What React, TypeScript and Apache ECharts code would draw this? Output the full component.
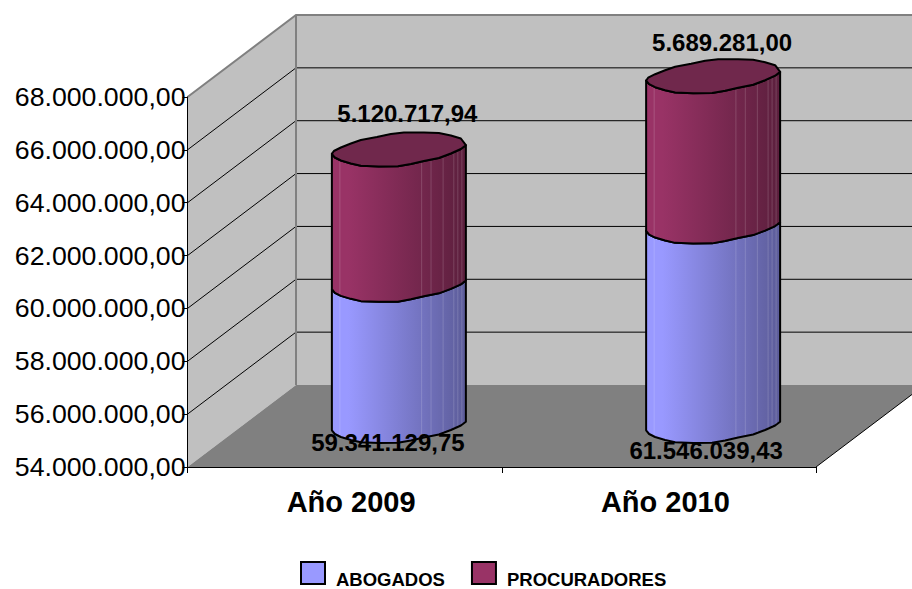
import React, { useEffect, useRef } from "react";
import * as echarts from "echarts";

const categories = ["Año 2009", "Año 2010"];
const abogados = [59341129.75, 61546039.43];
const procuradores = [5120717.94, 5689281.0];
const abogadosLabels = ["59.341.129,75", "61.546.039,43"];
const procuradoresLabels = ["5.120.717,94", "5.689.281,00"];
const yTicks = [56000000, 58000000, 60000000, 62000000, 64000000, 66000000, 68000000];
const yMin = 54000000;
const yMax = 68000000;
const yStep = 2000000;

const FONT = '"Liberation Sans", Arial, sans-serif';
const DEPTH_X = 108.5;
const DEPTH_Y = 82;
const SEAMS = [0.06, 0.67, 0.74, 0.83, 0.91, 0.94, 0.97];
const BOTTOM_LABEL_OFFSET = [[-11, 16], [-7, 24]];
const TOP_LABEL_OFFSET = [[8.5, -36], [9, -34]];
// Hand-read outline of the coarse rim polygon, left to right, relative to the cylinder's axis.
const RIM_FRONT = [[-67, 4.3], [-64, 8], [-58, 11], [-48, 14], [-38, 16.3], [-20, 17], [-1, 16.8], [12, 14.5], [25, 11.5], [40, 8.5], [52, 4], [62, -0.5], [67, -4.3]];
const RIM_BACK = [[-67, 4.3], [-65, 1.5], [-58, -2], [-48, -6], [-38, -9.5], [-22, -12.5], [-8, -15.5], [5, -17], [25, -17], [40, -16.5], [52, -14], [62, -11], [67, -4.3]];

const fmtAxis = (v: number) => {
  const s = String(Math.round(v));
  return s.replace(/\B(?=(\d{3})+(?!\d))/g, ".") + ",00";
};

const place = (list: number[][], cx: number, cy: number) => list.map((p) => [cx + p[0], cy + p[1]]);

const frontY = (dx: number) => {
  for (let i = 1; i < RIM_FRONT.length; i++) {
    const a = RIM_FRONT[i - 1];
    const b = RIM_FRONT[i];
    if (dx <= b[0]) return a[1] + ((b[1] - a[1]) * (dx - a[0])) / (b[0] - a[0]);
  }
  return RIM_FRONT[RIM_FRONT.length - 1][1];
};

const gradient = (light: string, dark: string) =>
  new echarts.graphic.LinearGradient(0, 0, 1, 0, [
    { offset: 0, color: light },
    { offset: 0.12, color: light },
    { offset: 1, color: dark },
  ]);

const cylinderItem = (
  lowValues: number[],
  labels: string[],
  labelOffset: number[][],
  light: string,
  dark: string,
  topFill: string | null,
) => (params: any, api: any) => {
  const i = params.dataIndex;
  const top = api.coord([api.value(0), api.value(1)]);
  const low = api.coord([api.value(0), lowValues[i]]);
  const cx = top[0] + DEPTH_X / 2;
  const yTop = top[1] - DEPTH_Y / 2;
  const yLow = low[1] - DEPTH_Y / 2;
  const upper = place(RIM_FRONT, cx, yTop);
  const lower = place(RIM_FRONT, cx, yLow).reverse();
  const children: any[] = [
    {
      type: "polygon",
      shape: { points: [...upper, ...lower] },
      style: { fill: gradient(light, dark), stroke: "#000", lineWidth: 2, lineJoin: "round" },
    },
  ];
  SEAMS.forEach((f) => {
    const dx = (2 * f - 1) * 67;
    const dy = frontY(dx);
    children.push({
      type: "line",
      shape: { x1: cx + dx, y1: yTop + dy + 1, x2: cx + dx, y2: yLow + dy - 1 },
      style: { stroke: "rgba(255,255,255,0.16)", lineWidth: 1 },
    });
  });
  if (topFill) {
    children.push({
      type: "polygon",
      shape: { points: [...place(RIM_FRONT, cx, yTop), ...place(RIM_BACK, cx, yTop).reverse()] },
      style: { fill: topFill, stroke: "#000", lineWidth: 2, lineJoin: "round" },
    });
  }
  const anchorY = topFill ? yTop : yLow;
  children.push({
    type: "text",
    z2: 50,
    style: {
      x: cx + labelOffset[i][0],
      y: anchorY + labelOffset[i][1],
      text: labels[i],
      fontFamily: FONT,
      fontWeight: "bold",
      fontSize: 24,
      fill: "#000",
      align: "center",
      verticalAlign: "middle",
    },
  });
  return { type: "group", children };
};

const wallsItem = (params: any, api: any) => {
  const { x, y, width, height } = params.coordSys;
  const bottom = y + height;
  const right = x + width;
  const bx = x + DEPTH_X;
  const backRight = right + DEPTH_X;
  const children: any[] = [
    { type: "polygon", shape: { points: [[x, y], [bx, y - DEPTH_Y], [bx, bottom - DEPTH_Y], [x, bottom]] }, style: { fill: "#c0c0c0" } },
    { type: "polygon", shape: { points: [[bx, y - DEPTH_Y], [backRight, y - DEPTH_Y], [backRight, bottom - DEPTH_Y], [bx, bottom - DEPTH_Y]] }, style: { fill: "#c0c0c0" } },
    { type: "polygon", shape: { points: [[x, bottom], [bx, bottom - DEPTH_Y], [backRight, bottom - DEPTH_Y], [right, bottom]] }, style: { fill: "#808080" } },
  ];
  yTicks.slice(0, -1).forEach((v) => {
    const py = api.coord([categories[0], v])[1];
    children.push({ type: "line", shape: { x1: x, y1: py, x2: bx, y2: py - DEPTH_Y }, style: { stroke: "#000", lineWidth: 1 } });
    children.push({ type: "line", shape: { x1: bx, y1: py - DEPTH_Y, x2: backRight, y2: py - DEPTH_Y }, style: { stroke: "#000", lineWidth: 1 } });
  });
  children.push({ type: "polyline", shape: { points: [[x, y], [bx, y - DEPTH_Y], [backRight, y - DEPTH_Y]] }, style: { stroke: "#808080", lineWidth: 2, fill: "none" } });
  children.push({ type: "line", shape: { x1: bx, y1: y - DEPTH_Y, x2: bx, y2: bottom - DEPTH_Y }, style: { stroke: "#808080", lineWidth: 2 } });
  children.push({ type: "line", shape: { x1: right, y1: bottom, x2: backRight, y2: bottom - DEPTH_Y }, style: { stroke: "#000", lineWidth: 1 } });
  return { type: "group", children };
};

export default function App() {
  const ref = useRef<HTMLDivElement>(null);
  useEffect(() => {
    const chart = echarts.init(ref.current!, undefined, { renderer: "svg" });
    chart.setOption({
      animation: false,
      backgroundColor: "#fff",
      grid: { left: 187.5, top: 97, width: 628.5, height: 370, containLabel: false },
      xAxis: {
        type: "category",
        data: categories,
        z: 10,
        axisLine: { show: true, lineStyle: { color: "#000", width: 1 } },
        axisTick: { show: true, length: 6, lineStyle: { color: "#000" } },
        axisLabel: {
          margin: 20,
          color: "#000",
          fontFamily: FONT,
          fontWeight: "bold",
          fontSize: 29,
          padding: [0, 0, 0, 13],
        },
      },
      yAxis: {
        type: "value",
        min: yMin,
        max: yMax,
        interval: yStep,
        z: 10,
        splitLine: { show: false },
        axisLine: { show: true, lineStyle: { color: "#000", width: 1 } },
        axisTick: { show: true, length: 5, lineStyle: { color: "#000" } },
        axisLabel: {
          margin: 2,
          color: "#000",
          fontFamily: FONT,
          fontSize: 26.7,
          padding: [0, 0, 7, 0],
          formatter: (v: number) => fmtAxis(v),
        },
      },
      legend: {
        left: 295,
        top: 556,
        itemWidth: 24,
        itemHeight: 22,
        itemGap: 26,
        icon: "rect",
        data: ["ABOGADOS", "PROCURADORES"],
        selectedMode: false,
        itemStyle: { borderColor: "#000", borderWidth: 2 },
        formatter: "{t|{name}}",
        textStyle: {
          rich: {
            t: { color: "#000", fontFamily: FONT, fontWeight: "bold", fontSize: 18.5, padding: [12, 0, 0, 6] },
          },
        },
      },
      series: [
        {
          type: "custom",
          name: "walls",
          silent: true,
          clip: false,
          z: 1,
          data: [[categories[0], yMin]],
          renderItem: wallsItem,
        },
        {
          type: "custom",
          name: "ABOGADOS",
          clip: false,
          z: 3,
          itemStyle: { color: "#9999ff" },
          data: categories.map((c, i) => [c, abogados[i]]),
          renderItem: cylinderItem(categories.map(() => yMin), abogadosLabels, BOTTOM_LABEL_OFFSET, "#9999ff", "#5c5c99", null),
        },
        {
          type: "custom",
          name: "PROCURADORES",
          clip: false,
          z: 4,
          itemStyle: { color: "#993366" },
          data: categories.map((c, i) => [c, abogados[i] + procuradores[i]]),
          renderItem: cylinderItem(abogados, procuradoresLabels, TOP_LABEL_OFFSET, "#993366", "#5c1f3d", "#70284c"),
        },
      ],
    });
    return () => chart.dispose();
  }, []);
  return <div ref={ref} style={{ position: "fixed", left: 0, top: 0, width: 912, height: 589 }} />;
}
